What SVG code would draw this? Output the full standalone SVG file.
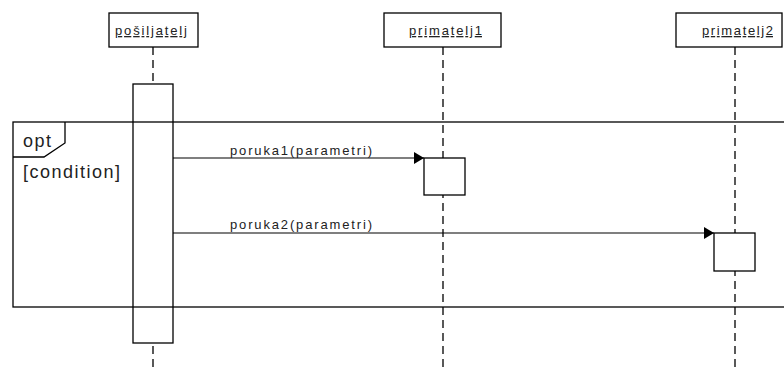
<svg xmlns="http://www.w3.org/2000/svg" width="784" height="369" viewBox="0 0 784 369">
<style>
.box{fill:#fff;stroke:#000;stroke-width:1.3}
.life{stroke:#000;stroke-width:1.3;stroke-dasharray:8,5;fill:none}
.msg{stroke:#000;stroke-width:1.2;fill:none}
.frame{fill:none;stroke:#000;stroke-width:1.3}
.hl{font-family:"Liberation Sans",Arial,sans-serif;font-size:13px;fill:#222;text-decoration:underline}
.ml{font-family:"Liberation Sans",Arial,sans-serif;font-size:13px;fill:#222}
.fl{font-family:"Liberation Sans",Arial,sans-serif;font-size:18px;fill:#222}
</style>
<defs>
<marker id="arr" viewBox="0 0 10 12" refX="10" refY="6" markerWidth="10" markerHeight="12" markerUnits="userSpaceOnUse" orient="auto">
<path d="M0,0 L10,6 L0,12 Z" fill="#000"/>
</marker>
</defs>
<rect width="784" height="369" fill="#fff"/>
<g id="lifelines">
<line class="life" x1="153" y1="47" x2="153" y2="369"/>
<line class="life" x1="443" y1="47" x2="443" y2="369"/>
<line class="life" x1="735" y1="47" x2="735" y2="369"/>
</g>
<g id="posiljatelj">
<rect class="box" x="109" y="13" width="89" height="34"/>
<text class="hl" x="115" y="35" textLength="72" lengthAdjust="spacing">pošiljatelj</text>
</g>
<g id="primatelj1">
<rect class="box" x="384" y="13" width="117" height="34"/>
<text class="hl" x="409" y="35" textLength="73" lengthAdjust="spacing">primatelj1</text>
</g>
<g id="primatelj2">
<rect class="box" x="676" y="13" width="106" height="34"/>
<text class="hl" x="702" y="35" textLength="71" lengthAdjust="spacing">primatelj2</text>
</g>
<g id="activation1">
<rect class="box" x="133" y="84" width="40" height="259"/>
</g>
<g id="activation2">
<rect class="box" x="424" y="158" width="41" height="37"/>
</g>
<g id="activation3">
<rect class="box" x="714" y="233" width="41" height="38"/>
</g>
<g id="opt-frame">
<rect class="frame" x="13" y="122" width="800" height="185"/>
<path class="frame" d="M13,157 L44,157 L65,143 L65,122"/>
<text class="fl" x="23" y="147" textLength="28" lengthAdjust="spacing">opt</text>
<text class="fl" x="23" y="178" textLength="97" lengthAdjust="spacing">[condition]</text>
</g>
<g id="connectors">
<line class="msg" x1="173" y1="158" x2="424" y2="158" marker-end="url(#arr)"/>
<text class="ml" x="230" y="155" textLength="142" lengthAdjust="spacing">poruka1(parametri)</text>
<line class="msg" x1="173" y1="233" x2="714" y2="233" marker-end="url(#arr)"/>
<text class="ml" x="230" y="229" textLength="142" lengthAdjust="spacing">poruka2(parametri)</text>
</g>
</svg>
